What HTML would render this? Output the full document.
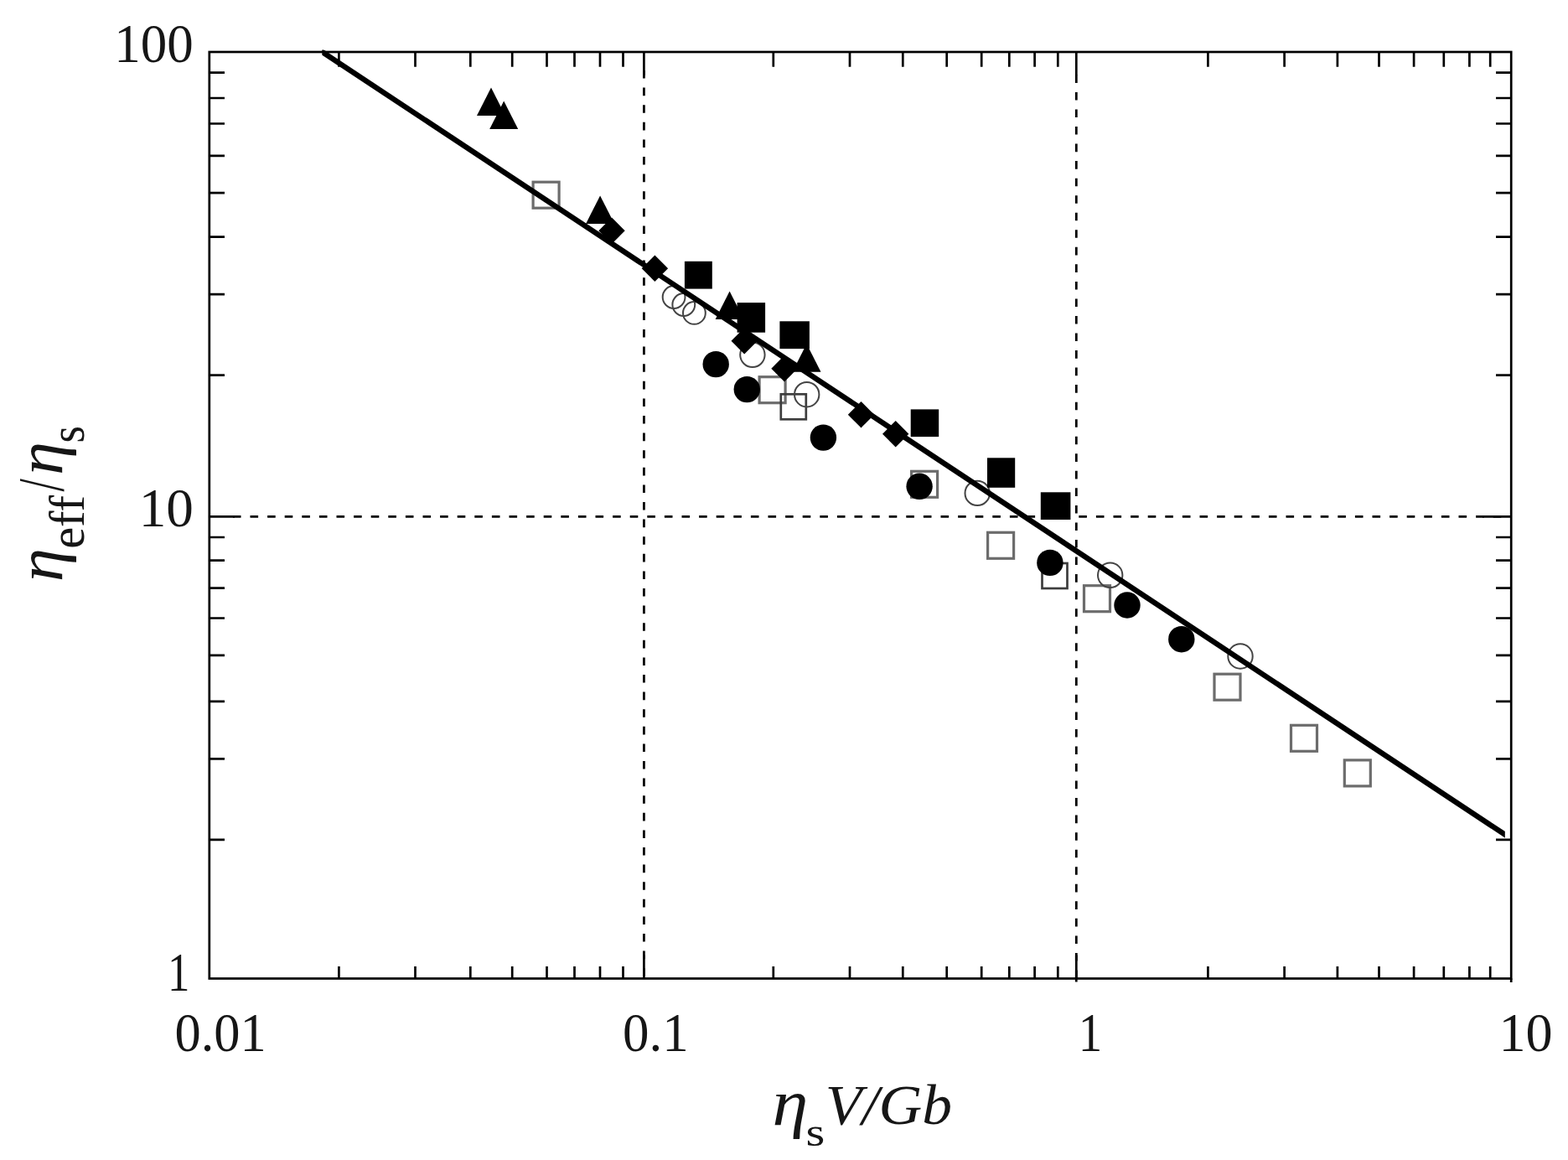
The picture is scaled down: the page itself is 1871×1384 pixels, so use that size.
<!DOCTYPE html>
<html lang="en"><head><meta charset="utf-8"><title>Effective viscosity plot</title>
<style>html,body{margin:0;padding:0;background:#fff}body{width:1871px;height:1384px;overflow:hidden}svg{display:block}text{font-family:"Liberation Serif","DejaVu Serif",serif;fill:#161616}</style></head><body>
<svg width="1871" height="1384" viewBox="0 0 1871 1384">
<rect x="0" y="0" width="1871" height="1384" fill="#fff"/>
<g stroke="#000" stroke-width="2.8" fill="none">
<path d="M277.90 616.30H287.50M298.50 616.30H308.10M319.10 616.30H328.70M339.70 616.30H349.30M360.30 616.30H369.90M380.90 616.30H390.50M401.50 616.30H411.10M422.10 616.30H431.70M442.70 616.30H452.30M463.30 616.30H472.90M483.90 616.30H493.50M504.50 616.30H514.10M525.10 616.30H534.70M545.70 616.30H555.30M566.30 616.30H575.90M586.90 616.30H596.50M607.50 616.30H617.10M628.10 616.30H637.70M648.70 616.30H658.30M669.30 616.30H678.90M689.90 616.30H699.50M710.50 616.30H720.10M731.10 616.30H740.70M751.70 616.30H761.30M772.30 616.30H781.90M792.90 616.30H802.50M813.50 616.30H823.10M834.10 616.30H843.70M854.70 616.30H864.30M875.30 616.30H884.90M895.90 616.30H905.50M916.50 616.30H926.10M937.10 616.30H946.70M957.70 616.30H967.30M978.30 616.30H987.90M998.90 616.30H1008.50M1019.50 616.30H1029.10M1040.10 616.30H1049.70M1060.70 616.30H1070.30M1081.30 616.30H1090.90M1101.90 616.30H1111.50M1122.50 616.30H1132.10M1143.10 616.30H1152.70M1163.70 616.30H1173.30M1184.30 616.30H1193.90M1204.90 616.30H1214.50M1225.50 616.30H1235.10M1246.10 616.30H1255.70M1266.70 616.30H1276.30M1287.30 616.30H1296.90M1307.90 616.30H1317.50M1328.50 616.30H1338.10M1349.10 616.30H1358.70M1369.70 616.30H1379.30M1390.30 616.30H1399.90M1410.90 616.30H1420.50M1431.50 616.30H1441.10M1452.10 616.30H1461.70M1472.70 616.30H1482.30M1493.30 616.30H1502.90M1513.90 616.30H1523.50M1534.50 616.30H1544.10M1555.10 616.30H1564.70M1575.70 616.30H1585.30M1596.30 616.30H1605.90M1616.90 616.30H1626.50M1637.50 616.30H1647.10M1658.10 616.30H1667.70M1678.70 616.30H1688.30M1699.30 616.30H1708.90M1719.90 616.30H1729.50M1740.50 616.30H1750.10M1761.10 616.30H1770.70M1781.70 616.30H1791.30M1802.30 616.30H1803.20"/>
<path d="M768.40 84.00V93.60M768.40 104.60V114.20M768.40 125.20V134.80M768.40 145.80V155.40M768.40 166.40V176.00M768.40 187.00V196.60M768.40 207.60V217.20M768.40 228.20V237.80M768.40 248.80V258.40M768.40 269.40V279.00M768.40 290.00V299.60M768.40 310.60V320.20M768.40 331.20V340.80M768.40 351.80V361.40M768.40 372.40V382.00M768.40 393.00V402.60M768.40 413.60V423.20M768.40 434.20V443.80M768.40 454.80V464.40M768.40 475.40V485.00M768.40 496.00V505.60M768.40 516.60V526.20M768.40 537.20V546.80M768.40 557.80V567.40M768.40 578.40V588.00M768.40 599.00V608.60M768.40 619.60V629.20M768.40 640.20V649.80M768.40 660.80V670.40M768.40 681.40V691.00M768.40 702.00V711.60M768.40 722.60V732.20M768.40 743.20V752.80M768.40 763.80V773.40M768.40 784.40V794.00M768.40 805.00V814.60M768.40 825.60V835.20M768.40 846.20V855.80M768.40 866.80V876.40M768.40 887.40V897.00M768.40 908.00V917.60M768.40 928.60V938.20M768.40 949.20V958.80M768.40 969.80V979.40M768.40 990.40V1000.00M768.40 1011.00V1020.60M768.40 1031.60V1041.20M768.40 1052.20V1061.80M768.40 1072.80V1082.40M768.40 1093.40V1103.00M768.40 1114.00V1123.60M768.40 1134.60V1144.20M768.40 1155.20V1164.80"/>
<path d="M1284.30 89.40V99.00M1284.30 109.94V119.54M1284.30 130.48V140.08M1284.30 151.02V160.62M1284.30 171.56V181.16M1284.30 192.10V201.70M1284.30 212.64V222.24M1284.30 233.18V242.78M1284.30 253.72V263.32M1284.30 274.26V283.86M1284.30 294.80V304.40M1284.30 315.34V324.94M1284.30 335.88V345.48M1284.30 356.42V366.02M1284.30 376.96V386.56M1284.30 397.50V407.10M1284.30 418.04V427.64M1284.30 438.58V448.18M1284.30 459.12V468.72M1284.30 479.66V489.26M1284.30 500.20V509.80M1284.30 520.74V530.34M1284.30 541.28V550.88M1284.30 561.82V571.42M1284.30 582.36V591.96M1284.30 602.90V612.50M1284.30 623.44V633.04M1284.30 643.98V653.58M1284.30 664.52V674.12M1284.30 685.06V694.66M1284.30 705.60V715.20M1284.30 726.14V735.74M1284.30 746.68V756.28M1284.30 767.22V776.82M1284.30 787.76V797.36M1284.30 808.30V817.90M1284.30 828.84V838.44M1284.30 849.38V858.98M1284.30 869.92V879.52M1284.30 890.46V900.06M1284.30 911.00V920.60M1284.30 931.54V941.14M1284.30 952.08V961.68M1284.30 972.62V982.22M1284.30 993.16V1002.76M1284.30 1013.70V1023.30M1284.30 1034.24V1043.84M1284.30 1054.78V1064.38M1284.30 1075.32V1084.92M1284.30 1095.86V1105.46M1284.30 1116.40V1126.00M1284.30 1136.94V1146.54M1284.30 1157.48V1167.08"/>
</g>
<path d="M404.40 62.00V79.80M404.40 1167.50V1152.90M495.50 62.00V79.80M495.50 1167.50V1152.90M561.30 62.00V79.80M561.30 1167.50V1152.90M611.20 62.00V79.80M611.20 1167.50V1152.90M652.50 62.00V79.80M652.50 1167.50V1152.90M685.50 62.00V79.80M685.50 1167.50V1152.90M716.00 62.00V79.80M716.00 1167.50V1152.90M743.50 62.00V79.80M743.50 1167.50V1152.90M922.80 62.00V79.80M922.80 1167.50V1152.90M1014.00 62.00V79.80M1014.00 1167.50V1152.90M1077.30 62.00V79.80M1077.30 1167.50V1152.90M1129.70 62.00V79.80M1129.70 1167.50V1152.90M1171.20 62.00V79.80M1171.20 1167.50V1152.90M1204.30 62.00V79.80M1204.30 1167.50V1152.90M1234.60 62.00V79.80M1234.60 1167.50V1152.90M1262.30 62.00V79.80M1262.30 1167.50V1152.90M1441.40 62.00V79.80M1441.40 1167.50V1152.90M1532.60 62.00V79.80M1532.60 1167.50V1152.90M1595.90 62.00V79.80M1595.90 1167.50V1152.90M1645.50 62.00V79.80M1645.50 1167.50V1152.90M1687.10 62.00V79.80M1687.10 1167.50V1152.90M1722.80 62.00V79.80M1722.80 1167.50V1152.90M1753.40 62.00V79.80M1753.40 1167.50V1152.90M1778.20 62.00V79.80M1778.20 1167.50V1152.90M768.40 62.00V90.00M768.40 1167.50V1139.50M1284.30 62.00V90.00M1284.30 1167.50V1139.50M249.80 86.60H268.00M1803.20 86.60H1785.00M249.80 117.00H268.00M1803.20 117.00H1785.00M249.80 147.50H268.00M1803.20 147.50H1785.00M249.80 185.90H268.00M1803.20 185.90H1785.00M249.80 230.10H268.00M1803.20 230.10H1785.00M249.80 282.70H268.00M1803.20 282.70H1785.00M249.80 351.20H268.00M1803.20 351.20H1785.00M249.80 447.70H268.00M1803.20 447.70H1785.00M249.80 641.00H268.00M1803.20 641.00H1785.00M249.80 668.70H268.00M1803.20 668.70H1785.00M249.80 701.60H268.00M1803.20 701.60H1785.00M249.80 737.50H268.00M1803.20 737.50H1785.00M249.80 781.80H268.00M1803.20 781.80H1785.00M249.80 836.80H268.00M1803.20 836.80H1785.00M249.80 905.40H268.00M1803.20 905.40H1785.00M249.80 1001.90H268.00M1803.20 1001.90H1785.00M249.80 616.30H280.00M1803.20 616.30H1769.00" stroke="#000" stroke-width="2.7" fill="none"/>
<g fill="none" stroke="#6c6c6c" stroke-width="3.2">
<rect x="636.1" y="217.2" width="31.0" height="31.0"/>
<rect x="906.1" y="449.7" width="31.0" height="31.0"/>
<rect x="931.8" y="470.3" width="30.0" height="30.0" stroke="#3d3d3d" stroke-width="2.7"/>
<rect x="1087.6" y="562.3" width="31.0" height="31.0"/>
<rect x="1178.6" y="635.3" width="31.0" height="31.0"/>
<rect x="1243.5" y="672.0" width="30.0" height="30.0" stroke="#3d3d3d" stroke-width="2.7"/>
<rect x="1293.5" y="698.7" width="31.0" height="31.0"/>
<rect x="1449.0" y="804.2" width="31.0" height="31.0"/>
<rect x="1540.5" y="865.3" width="31.0" height="31.0"/>
<rect x="1604.3" y="906.9" width="31.0" height="31.0"/>
</g>
<g fill="none" stroke="#444" stroke-width="2.0">
<circle cx="804.1" cy="354.5" r="13.4"/>
<circle cx="815.8" cy="363.5" r="13.4"/>
<circle cx="828.4" cy="373.4" r="13.4"/>
<circle cx="897.9" cy="423.3" r="14.7"/>
<circle cx="962.7" cy="470.7" r="14.7"/>
<circle cx="1166.2" cy="588.4" r="14.7"/>
<circle cx="1324.7" cy="686.3" r="14.7"/>
<circle cx="1480.0" cy="783.0" r="14.7"/>
</g>
<clipPath id="pc"><rect x="384.3" y="59.5" width="1411.5" height="1105.5"/></clipPath>
<path d="M354.30 41.94L1825.80 1015.63" stroke="#000" stroke-width="6.4" fill="none" clip-path="url(#pc)"/>
<g fill="#000" stroke="none">
<circle cx="854.2" cy="434.6" r="15.7"/>
<circle cx="891.3" cy="464.6" r="15.7"/>
<circle cx="982.4" cy="522.1" r="15.7"/>
<circle cx="1097.1" cy="580.3" r="15.7"/>
<circle cx="1252.9" cy="671.4" r="15.7"/>
<circle cx="1345.0" cy="722.0" r="15.7"/>
<circle cx="1409.8" cy="762.7" r="15.7"/>
<rect x="816.9" y="311.8" width="32.9" height="32.8"/>
<rect x="879.6" y="361.1" width="33.5" height="35.6"/>
<rect x="930.4" y="383.3" width="35.5" height="32.8"/>
<rect x="1086.7" y="488.4" width="33.5" height="32.7"/>
<rect x="1178.0" y="546.3" width="33.2" height="35.5"/>
<rect x="1241.8" y="587.3" width="35.6" height="32.7"/>
<path d="M730.0 259.6L745.7 275.3L730.0 291.0L714.3 275.3Z"/>
<path d="M781.4 304.6L797.1 320.3L781.4 336.0L765.7 320.3Z"/>
<path d="M888.2 391.1L903.9 406.8L888.2 422.5L872.5 406.8Z"/>
<path d="M936.0 424.1L951.7 439.8L936.0 455.5L920.3 439.8Z"/>
<path d="M1027.5 479.0L1043.2 494.7L1027.5 510.4L1011.8 494.7Z"/>
<path d="M1068.7 502.0L1084.4 517.7L1068.7 533.4L1053.0 517.7Z"/>
<path d="M586.0 104.5L603.0 138.0L569.0 138.0Z"/>
<path d="M601.2 120.5L618.2 154.0L584.2 154.0Z"/>
<path d="M716.1 233.4L733.1 266.9L699.1 266.9Z"/>
<path d="M870.6 347.6L887.6 381.1L853.6 381.1Z"/>
<path d="M962.5 410.2L979.5 443.7L945.5 443.7Z"/>
</g>
<rect x="249.80" y="62.00" width="1553.40" height="1105.50" fill="none" stroke="#000" stroke-width="2.7"/>
<path d="M1803.20 1167.50V1171.90M1284.30 1167.50V1171.50" stroke="#000" stroke-width="2.7"/>
<text transform="translate(136.27 74.10) scale(0.9628 1)" font-size="65.50">100</text>
<text transform="translate(165.70 628.10) scale(0.9960 1)" font-size="65.50">10</text>
<text transform="translate(200.07 1182.40) scale(0.8061 1)" font-size="65.50">1</text>
<text transform="translate(208.45 1254.20) scale(0.9534 1)" font-size="65.50">0.01</text>
<text transform="translate(742.93 1254.20) scale(0.9615 1)" font-size="65.50">0.1</text>
<text transform="translate(1286.64 1254.20) scale(0.8712 1)" font-size="65.50">1</text>
<text transform="translate(1788.38 1254.20) scale(0.9805 1)" font-size="65.50">10</text>
<text transform="translate(921.41 1342.04) scale(1.1117 1)" font-size="77.51" font-style="italic">η</text>
<text transform="translate(961.57 1367.05) scale(1.2190 1)" font-size="48.00">s</text>
<text transform="translate(984.84 1341.20) scale(1.0455 1)" font-size="68.50" font-style="italic">V/Gb</text>
<text transform="rotate(-90) translate(-694.13 73.74) scale(1.0439 1)" font-size="77.51" font-style="italic">η</text>
<text transform="rotate(-90) translate(-654.83 100.49) scale(1.0000 1)" font-size="58.42">eff</text>
<text transform="rotate(-90) translate(-586.40 74.79) scale(0.7109 1)" font-size="77.53">/</text>
<text transform="rotate(-90) translate(-566.70 73.74) scale(1.0321 1)" font-size="77.51" font-style="italic">η</text>
<text transform="rotate(-90) translate(-528.43 100.48) scale(0.8863 1)" font-size="58.80">s</text>
</svg></body></html>
